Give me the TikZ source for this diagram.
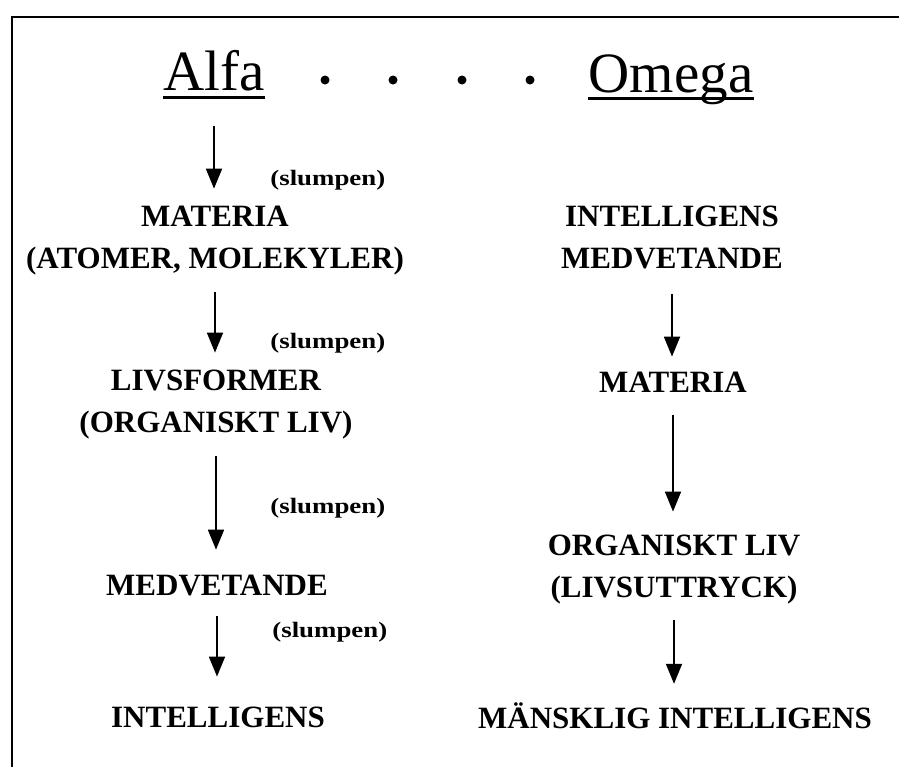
\documentclass[tikz,border=0pt]{standalone}
\usepackage{fontspec}
\setmainfont{Liberation Serif}
\newfontfamily\slumpfont[FakeStretch=1.22]{Liberation Serif}
\usetikzlibrary{arrows.meta}

\tikzset{
  rubrik/.style={font=\fontsize{28.5}{34}\selectfont, inner sep=0pt, anchor=base},
  etikett/.style={font=\fontsize{15.5}{21}\selectfont\bfseries, align=center, inner sep=0pt, anchor=base},
  slump/.style={font=\slumpfont\fontsize{11}{13}\selectfont\bfseries, inner sep=0pt, anchor=west},
  pil/.style={-{Triangle[width=8pt,length=10pt]}, line width=0.9pt},
}

\begin{document}
\begin{tikzpicture}[x=0.5pt,y=0.5pt,yscale=-1]
    \useasboundingbox (0,0) rectangle (899,767);

    %Frame
    \draw [line width=1.4pt] (12,767) -- (12,17) -- (899,17) ;

    % Heading
    \node [rubrik] (alfa) at (214,90) {Alfa};
    \node [rubrik] (omega) at (671,92) {Omega};
    \draw [line width=1.5pt] ([yshift=3.5pt]alfa.base west) -- ([yshift=3.5pt]alfa.base east) ;
    \draw [line width=1.5pt] ([yshift=3.2pt]omega.base west) -- ([yshift=3.2pt]omega.base east) ;
    \foreach \x in {325,393,462,530}
        \fill (\x,80) circle [radius=4.5] ;

    % Text Node -- left column (base = last line)
    \node [etikett] (materiaL) at (215,268) {MATERIA\\(ATOMER, MOLEKYLER)};
    \node [etikett] (livsformer) at (216,432) {LIVSFORMER\\(ORGANISKT LIV)};
    \node [etikett] (medvetandeL) at (217,595) {MEDVETANDE};
    \node [etikett] (intelligensL) at (218,727) {INTELLIGENS};

    % Text Node -- right column
    \node [etikett] (intelligensR) at (672,268) {INTELLIGENS\\MEDVETANDE};
    \node [etikett] (materiaR) at (673,392) {MATERIA};
    \node [etikett] (organiskt) at (674,597) {ORGANISKT LIV\\(LIVSUTTRYCK)};
    \node [etikett] (mansklig) at (675,728) {MÄNSKLIG INTELLIGENS};

    % Text Node -- (slumpen)
    \node [slump] (slump1) at (270,180) {(slumpen)};
    \node [slump] (slump2) at (270,343) {(slumpen)};
    \node [slump] (slump3) at (270,508) {(slumpen)};
    \node [slump] (slump4) at (272,632) {(slumpen)};

    %Straight Lines -- left
    \draw [pil, shorten <=17.5pt, shorten >=8.25pt] (alfa.south) -- (materiaL.north -| alfa.south) ;
    \draw [pil, shorten <=8.6pt, shorten >=8.25pt] (materiaL.south) -- (livsformer.north -| materiaL.south) ;
    \draw [pil, shorten <=8.6pt, shorten >=12.25pt] (livsformer.south) -- (medvetandeL.north -| livsformer.south) ;
    \draw [pil, shorten <=10pt, shorten >=14.75pt] (medvetandeL.south) -- (intelligensL.north -| medvetandeL.south) ;

    %Straight Lines -- right
    \draw [pil, shorten <=12.5pt, shorten >=7.25pt] (intelligensR.south) -- (materiaR.north -| intelligensR.south) ;
    \draw [pil, shorten <=11.5pt, shorten >=11.25pt] (materiaR.south) -- (organiskt.north -| materiaR.south) ;
    \draw [pil, shorten <=8.2pt, shorten >=9pt] (organiskt.south) -- (mansklig.north -| organiskt.south) ;

\end{tikzpicture}
\end{document}
